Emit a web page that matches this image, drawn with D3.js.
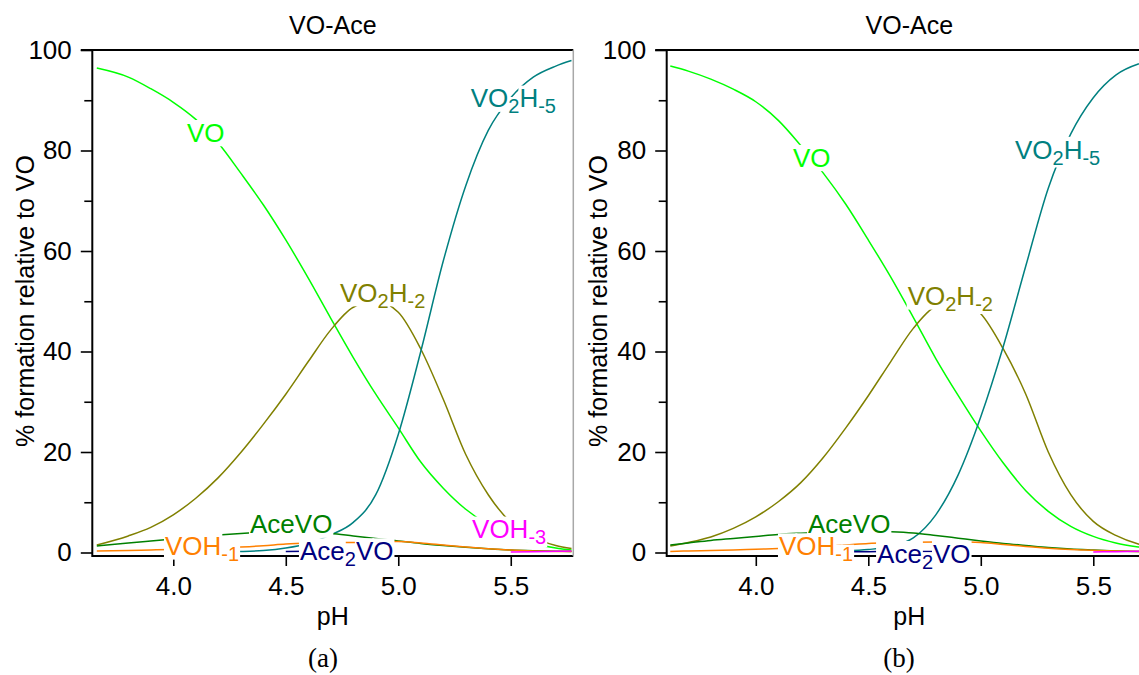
<!DOCTYPE html>
<html>
<head>
<meta charset="utf-8">
<script src="https://cdn.jsdelivr.net/npm/d3@7"></script>
<style>
  body { margin: 0; background: #fff; }
  svg { display: block; }
</style>
</head>
<body>
<svg id="chart" width="1139" height="675"></svg>
<script>
// ---- species and colours ----
const species = ["VO", "VO2H-2", "VO2H-5", "AceVO", "VOH-1", "Ace2VO", "VOH-3"];
const speciesColors = ["#00ff00", "#808000", "#008080", "#008000", "#ff8000", "#000080", "#ff00ff"];
// label text runs: [text, isSubscript]
const speciesLabels = [
  [["VO", 0]],
  [["VO", 0], ["2", 1], ["H", 0], ["-2", 1]],
  [["VO", 0], ["2", 1], ["H", 0], ["-5", 1]],
  [["AceVO", 0]],
  [["VOH", 0], ["-1", 1]],
  [["Ace", 0], ["2", 1], ["VO", 0]],
  [["VOH", 0], ["-3", 1]]
];

// ---- panel (a) ----  (null = species not plotted at that pH)
const pHA     = [3.66, 3.8, 3.9, 4.0, 4.1, 4.2, 4.3, 4.4, 4.5, 4.6, 4.7, 4.8, 4.9, 5.0, 5.1, 5.2, 5.3, 5.4, 5.5, 5.6, 5.7, 5.77];
const voA     = [96.4, 94.6, 92.3, 89.6, 86.2, 81.5, 75.5, 69.2, 62.2, 54.6, 46.6, 38.8, 31.5, 24.8, 18.0, 12.8, 8.6, 5.5, 3.2, 1.8, 0.9, 0.5];
const vo2h2A  = [1.5, 3.3, 5.0, 7.5, 10.8, 14.9, 19.9, 25.5, 31.5, 38.0, 44.3, 48.8, 50.0, 47.8, 40.5, 30.5, 19.5, 11.5, 6.0, 3.0, 1.4, 0.8];
const vo2h5A  = [null, null, null, null, null, 0.12, 0.2, 0.4, 0.9, 1.8, 3.5, 6.0, 11.5, 23.5, 40.0, 58.0, 73.0, 84.0, 90.5, 94.6, 96.8, 97.9];
const acevoA  = [1.3, 1.9, 2.3, 2.7, 3.1, 3.5, 3.8, 4.0, 4.1, 4.0, 3.8, 3.3, 2.8, 2.3, 1.8, 1.4, 1.05, 0.75, 0.5, 0.35, 0.25, 0.2];
const voh1A   = [0.3, 0.4, 0.5, 0.6, 0.75, 0.9, 1.1, 1.35, 1.7, 1.9, 2.0, 2.0, 2.2, 2.2, 1.9, 1.5, 1.1, 0.75, 0.5, 0.32, 0.22, 0.18];
const ace2voA = [null, null, null, null, null, null, null, null, 0.2, 0.25, 0.3, 0.3, 0.28, null, null, null, null, null, null, null, null, null];
const voh3A   = [null, null, null, null, null, null, null, null, null, null, null, null, null, null, null, null, null, null, 0.12, 0.17, 0.24, 0.3];
// label anchors (pH, %) for panel (a), in species order
const labelPHA  = [4.061, 4.741, 5.322, 4.341, 3.963, 4.563, 5.328];
const labelValA = [81.75, 49.9, 88.6, 3.82, -0.5, -1.49, 2.83];

// ---- panel (b) ----
const pHB     = [3.62, 3.7, 3.8, 3.9, 4.0, 4.1, 4.2, 4.3, 4.4, 4.5, 4.6, 4.7, 4.8, 4.9, 5.0, 5.1, 5.2, 5.3, 5.4, 5.5, 5.6, 5.7, 5.75];
const voB     = [96.8, 95.8, 94.2, 92.2, 89.7, 86.0, 81.0, 75.5, 69.3, 62.2, 54.8, 46.8, 38.6, 31.2, 24.2, 17.8, 12.3, 8.2, 5.2, 3.2, 1.9, 1.1, 0.8];
const vo2h2B  = [1.3, 2.0, 3.1, 4.8, 7.1, 10.1, 13.9, 18.9, 24.8, 31.2, 38.0, 44.6, 49.0, 50.0, 47.5, 40.5, 31.5, 20.0, 11.5, 6.2, 3.4, 1.7, 1.2];
const vo2h5B  = [null, null, null, null, null, null, null, null, 0.35, 0.6, 1.2, 2.9, 7.5, 15.5, 27.0, 41.0, 57.0, 72.5, 83.3, 90.5, 95.0, 97.2, 97.8];
const acevoB  = [1.5, 1.9, 2.4, 2.8, 3.2, 3.6, 3.85, 4.05, 4.2, 4.25, 4.15, 3.9, 3.4, 2.85, 2.3, 1.8, 1.4, 1.0, 0.7, 0.5, 0.32, 0.2, 0.17];
const voh1B   = [0.2, 0.3, 0.4, 0.5, 0.65, 0.8, 1.0, 1.25, 1.5, 1.8, 1.95, 2.05, 2.1, 2.15, 2.0, 1.6, 1.2, 0.85, 0.6, 0.45, 0.3, 0.2, 0.17];
const ace2voB = [null, null, null, null, null, null, null, null, 0.13, 0.17, 0.2, 0.22, 0.22, 0.2, null, null, null, null, null, null, null, null, null];
const voh3B   = [null, null, null, null, null, null, null, null, null, null, null, null, null, null, null, null, null, null, null, 0.12, 0.17, 0.24, 0.28];
// label anchors for panel (b); VOH-3 is not labelled here
const labelPHB  = [4.165, 4.675, 5.152, 4.232, 4.103, 4.539, null];
const labelValB = [76.8, 49.25, 78.4, 3.9, -0.5, -2.03, null];

// ---- axis ticks ----
const yMajorTicks = [0, 20, 40, 60, 80, 100];
const yMinorTicks = [10, 30, 50, 70, 90];
const xTicks = [4.0, 4.5, 5.0, 5.5];

const titleText = "VO-Ace";
const xTitle = "pH";
const yTitle = "% formation relative to VO";

const SANS = "'Liberation Sans', Arial, sans-serif";
const SERIF = "'Liberation Serif', 'Times New Roman', serif";
const svg = d3.select("#chart").style("font-family", SANS);

const FONT = 25, TICK_FONT = 26, LABEL_FONT = 26, SUB_FONT = 20, SUB_SHIFT = 6;

function drawPanel(cfg) {
  const g = svg.append("g");
  const x = d3.scaleLinear().domain(cfg.xDomain).range([cfg.left, cfg.right]);
  const y = d3.scaleLinear().domain([0, 100]).range([552.5, 50]);
  const bottom = 556, top = 50;

  // y axis: major + minor ticks (outward)
  const ya = g.append("g").attr("transform", `translate(${cfg.left},0)`)
    .call(d3.axisLeft(y).tickValues(yMajorTicks).tickSize(11.5).tickPadding(9).tickFormat(d3.format("d")));
  ya.attr("font-family", null).attr("font-size", null);
  ya.select(".domain").remove();
  ya.selectAll("line").attr("stroke", "#000").attr("stroke-width", 1.6);
  ya.selectAll("text").style("font-size", TICK_FONT + "px").attr("fill", "#000");
  const ym = g.append("g").attr("transform", `translate(${cfg.left},0)`)
    .call(d3.axisLeft(y).tickValues(yMinorTicks).tickSize(8).tickFormat(""));
  ym.select(".domain").remove();
  ym.selectAll("line").attr("stroke", "#000").attr("stroke-width", 1.6);

  // x axis
  const xa = g.append("g").attr("transform", `translate(0,${bottom})`)
    .call(d3.axisBottom(x).tickValues(xTicks).tickSize(10).tickPadding(11).tickFormat(d3.format(".1f")));
  xa.attr("font-family", null).attr("font-size", null);
  xa.select(".domain").remove();
  xa.selectAll("line").attr("stroke", "#000").attr("stroke-width", 1.6);
  xa.selectAll("text").style("font-size", TICK_FONT + "px").attr("fill", "#000");

  // frame
  g.append("line").attr("x1", cfg.left).attr("x2", cfg.left).attr("y1", top - 1).attr("y2", bottom + 1)
    .attr("stroke", "#000").attr("stroke-width", 2);
  g.append("line").attr("x1", cfg.left).attr("x2", cfg.right).attr("y1", bottom).attr("y2", bottom)
    .attr("stroke", "#000").attr("stroke-width", 2);
  g.append("line").attr("x1", cfg.left - 11.5).attr("x2", cfg.right).attr("y1", top).attr("y2", top)
    .attr("stroke", "#000").attr("stroke-width", 2);
  if (cfg.rightFrame) {
    g.append("line").attr("x1", cfg.right).attr("x2", cfg.right).attr("y1", top).attr("y2", bottom)
      .attr("stroke", "#a8a8a8").attr("stroke-width", 1.5);
  }

  // curves
  const line = d3.line().defined(d => d[1] != null)
    .x(d => x(d[0])).y(d => y(d[1])).curve(d3.curveMonotoneX);
  cfg.series.forEach((vals, i) => {
    const pts = cfg.pH.map((p, k) => [p, vals[k]]);
    g.append("path").datum(pts).attr("d", line)
      .attr("fill", "none").attr("stroke", speciesColors[i]).attr("stroke-width", 1.5);
  });

  // species labels with white knock-out boxes behind each glyph
  const maskG = g.append("g");
  const textG = g.append("g");
  species.forEach((name, i) => {
    if (cfg.labelPH[i] == null) return;
    const t = textG.append("text")
      .attr("x", x(cfg.labelPH[i])).attr("y", y(cfg.labelVal[i]))
      .attr("fill", speciesColors[i]).style("font-size", LABEL_FONT + "px");
    let prevSub = false;
    speciesLabels[i].forEach(([s, sub]) => {
      const dy = sub ? (prevSub ? 0 : SUB_SHIFT) : (prevSub ? -SUB_SHIFT : 0);
      t.append("tspan").text(s).style("font-size", (sub ? SUB_FONT : LABEL_FONT) + "px").attr("dy", dy);
      prevSub = !!sub;
    });
    const node = t.node();
    const n = node.getNumberOfChars();
    for (let c = 0; c < n; c++) {
      const e = node.getExtentOfChar(c);
      const em = e.height / 1.117;
      const base = e.y + 0.905 * em;
      maskG.append("rect")
        .attr("x", e.x - 1).attr("width", e.width + 2)
        .attr("y", base - 0.82 * em).attr("height", 0.98 * em)
        .attr("fill", "#fff");
    }
  });

  // titles
  const cx = (cfg.left + cfg.right) / 2;
  g.append("text").attr("x", cx).attr("y", 33.5).attr("text-anchor", "middle")
    .style("font-size", FONT + "px").text(titleText);
  g.append("text").attr("x", cx).attr("y", 625).attr("text-anchor", "middle")
    .style("font-size", FONT + "px").text(xTitle);
  g.append("text").attr("transform", `translate(${cfg.yTitleX},301) rotate(-90)`)
    .attr("text-anchor", "middle").style("font-size", FONT + "px").text(yTitle);
  g.append("text").attr("x", cfg.captionX).attr("y", 667).attr("text-anchor", "middle")
    .style("font-size", "27px").style("font-family", SERIF)
    .text(cfg.caption);
}

drawPanel({
  left: 92.3, right: 573.3, xDomain: [3.64, 5.778], rightFrame: true,
  pH: pHA, series: [voA, vo2h2A, vo2h5A, acevoA, voh1A, ace2voA, voh3A],
  labelPH: labelPHA, labelVal: labelValA,
  yTitleX: 33.5, captionX: 323, caption: "(a)"
});
drawPanel({
  left: 666.7, right: 1152, xDomain: [3.604, 5.761], rightFrame: true,
  pH: pHB, series: [voB, vo2h2B, vo2h5B, acevoB, voh1B, ace2voB, voh3B],
  labelPH: labelPHB, labelVal: labelValB,
  yTitleX: 606.5, captionX: 899, caption: "(b)"
});
</script>
</body>
</html>
